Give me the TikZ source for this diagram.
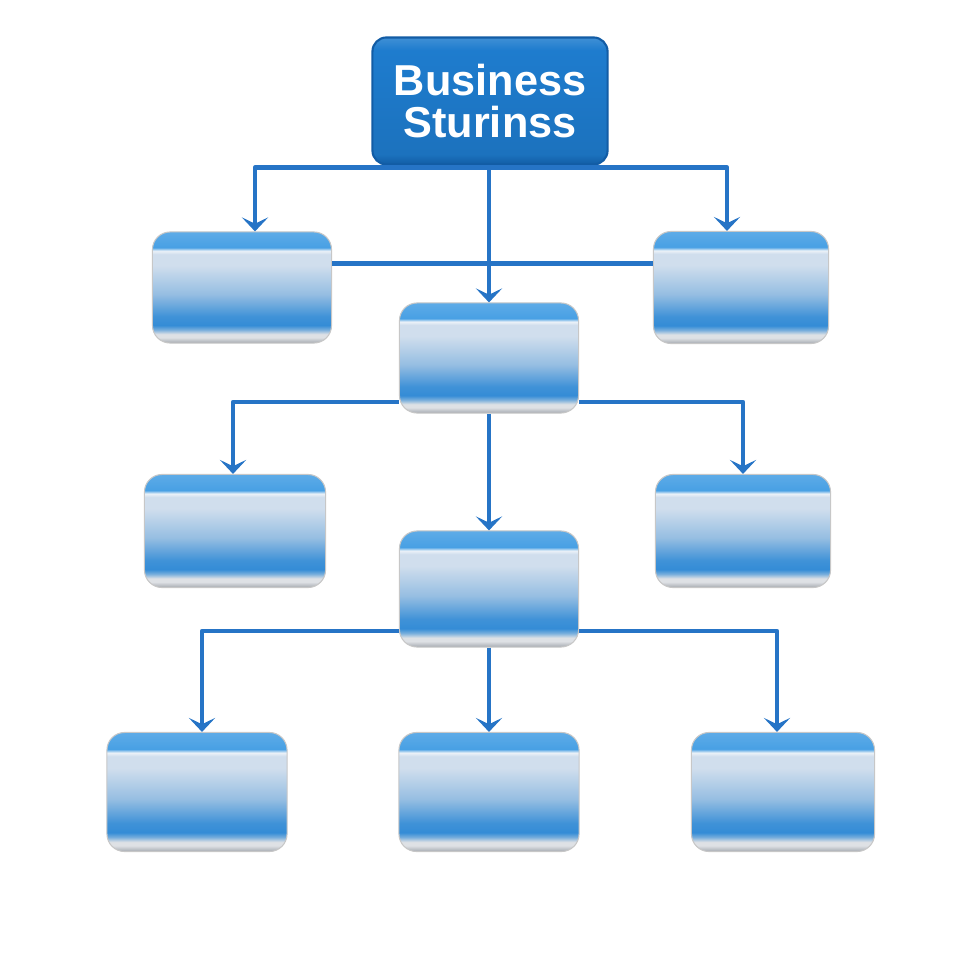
\documentclass[tikz,border=0pt]{standalone}
\usepackage{fontspec}
\usepackage{xcolor}
\usepackage{tikz}
\newfontfamily\titlefont{Liberation Sans}
\definecolor{linkblue}{RGB}{38,116,198}
\definecolor{headblue}{RGB}{30,124,206}
\definecolor{headedge}{RGB}{18,92,165}
\definecolor{cardtop}{RGB}{72,160,228}
\definecolor{cardhi}{RGB}{236,242,248}
\definecolor{cardlight}{RGB}{208,222,237}
\definecolor{cardmid}{RGB}{150,190,226}
\definecolor{cardband}{RGB}{52,140,214}
\definecolor{cardfoot}{RGB}{222,225,229}
\definecolor{cardedge}{RGB}{165,170,176}
\pgfdeclareverticalshading{cardshade}{100bp}{
    color(0bp)=(cardedge); color(25bp)=(cardedge);
    color(27.5bp)=(cardfoot); color(29bp)=(cardfoot);
    color(31bp)=(cardband!60!cardfoot);
    color(33bp)=(cardband); color(37bp)=(cardband!88!cardmid);
    color(47bp)=(cardmid); color(60bp)=(cardlight); color(65bp)=(cardlight);
    color(66.5bp)=(cardhi); color(68bp)=(cardtop);
    color(75bp)=(cardtop!88!white); color(100bp)=(cardtop!88!white)}
\pgfdeclareverticalshading{headshade}{100bp}{
    color(0bp)=(headedge); color(25bp)=(headedge);
    color(29bp)=(headblue!92!black); color(70bp)=(headblue);
    color(75bp)=(headblue!85!white); color(100bp)=(headblue!85!white)}
\tikzset{>=latex,
    card/.style={rectangle, rounded corners=5pt, shading=cardshade,
        draw=black!22, line width=0.3pt, inner sep=0pt},
    headcard/.style={rectangle, rounded corners=4pt, shading=headshade,
        draw=headedge, line width=0.6pt, text=white, align=center,
        font=\titlefont\bfseries\fontsize{12.3}{11.8}\selectfont},
    link/.style={draw=linkblue, line width=1.3pt, line join=round}}
\usetikzlibrary{calc,arrows.meta}

\begin{document}
\begin{tikzpicture}[x=0.01cm, y=-0.01cm,
    >={Stealth[length=4pt, width=7.5pt, inset=1.8pt]}]
    \useasboundingbox (0,0) rectangle (980,980);
    \node[headcard, minimum width=2.35cm, minimum height=1.27cm] at (490,101) (top) {Business\\Sturinss};
    \node[card, minimum width=1.79cm, minimum height=1.11cm] at (242,287.5) (left1) {};
    \node[card, minimum width=1.75cm, minimum height=1.12cm] at (741,287.5) (right1) {};
    \node[card, minimum width=1.79cm, minimum height=1.10cm] at (489,358) (mid1) {};
    \node[card, minimum width=1.81cm, minimum height=1.13cm] at (235,531) (left2) {};
    \node[card, minimum width=1.75cm, minimum height=1.13cm] at (743,531) (right2) {};
    \node[card, minimum width=1.79cm, minimum height=1.16cm] at (489,589) (mid2) {};
    \node[card, minimum width=1.80cm, minimum height=1.19cm] at (197,792) (bot1) {};
    \node[card, minimum width=1.80cm, minimum height=1.19cm] at (489,792) (bot2) {};
    \node[card, minimum width=1.83cm, minimum height=1.19cm] at (783,792) (bot3) {};
    \draw[link, ->] (top.south -| mid1.north) -- (mid1.north);
    \draw[link, ->] ([yshift=-0.02cm]top.south) -| ([xshift=0.13cm]left1.north);
    \draw[link, ->] ([yshift=-0.02cm]top.south) -| ([xshift=-0.14cm]right1.north);
    \draw[link] ([yshift=0.24cm]left1.east) -- ([yshift=0.24cm]right1.west);
    \draw[link, ->] ([yshift=-0.44cm]mid1.west) -| ([xshift=-0.02cm]left2.north);
    \draw[link, ->] ([yshift=-0.44cm]mid1.east) -| (right2.north);
    \draw[link, ->] (mid1.south) -- (mid2.north);
    \draw[link, ->] ([yshift=-0.42cm]mid2.west) -| ([xshift=0.05cm]bot1.north);
    \draw[link, ->] (mid2.south) -- (bot2.north);
    \draw[link, ->] ([yshift=-0.42cm]mid2.east) -| ([xshift=-0.06cm]bot3.north);
  \end{tikzpicture}
\end{document}
